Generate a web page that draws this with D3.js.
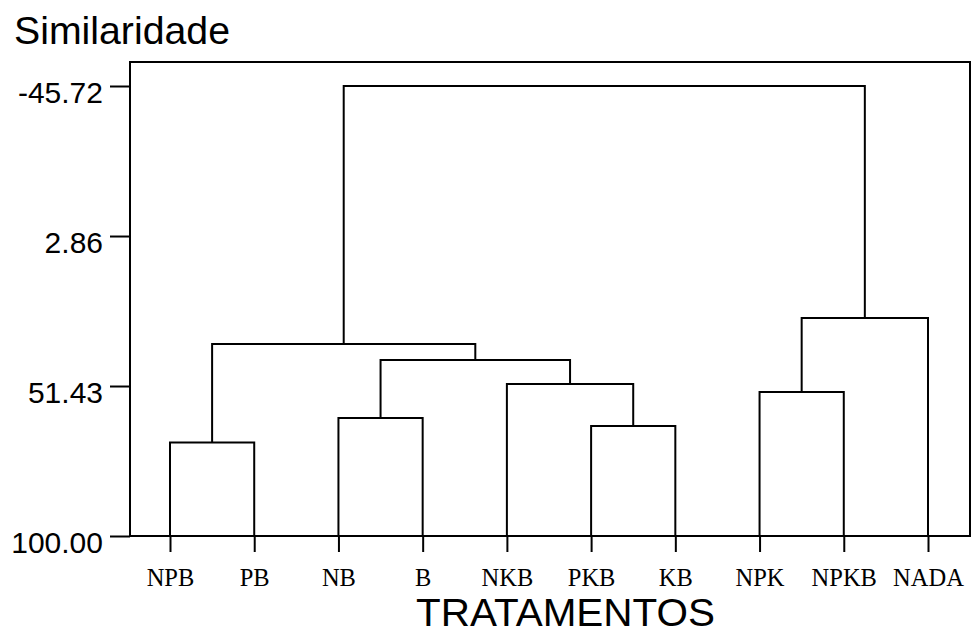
<!DOCTYPE html>
<html>
<head>
<meta charset="utf-8">
<script src="https://cdn.jsdelivr.net/npm/d3@7/dist/d3.min.js"></script>
<style>
  html, body { margin: 0; padding: 0; background: #fff; }
  svg { display: block; }
</style>
</head>
<body>
<svg id="chart" width="974" height="634"></svg>
<script>
// Treatments (dendrogram leaves, left to right)
const leaves = ["NPB", "PB", "NB", "B", "NKB", "PKB", "KB", "NPK", "NPKB", "NADA"];

// Similarity axis tick values
const yTicks = [-45.72, 2.86, 51.43, 100.00];

// Agglomeration steps: each pair joins two leaves or earlier clusters ("c" + step index)
const mergePairs = [
  ["NPB", "PB"],   // c0
  ["NB", "B"],     // c1
  ["PKB", "KB"],   // c2
  ["NKB", "c2"],   // c3
  ["c1", "c3"],    // c4
  ["c0", "c4"],    // c5
  ["NPK", "NPKB"], // c6
  ["c6", "NADA"],  // c7
  ["c5", "c7"]     // c8
];
// Similarity level at which each step joins
const mergeHeights = [69.7, 61.8, 64.4, 50.8, 43.0, 37.8, 53.4, 29.4, -45.72];

const svg = d3.select("#chart");
const frame = { left: 130, top: 62, right: 970, bottom: 536 };

const x = d3.scalePoint().domain(leaves).range([170, 928]);
const y = d3.scaleLinear().domain([-45.72, 100]).range([86, 536]);

// Node positions: leaves sit on the baseline, clusters centre over their children
const nodes = {};
leaves.forEach(l => { nodes[l] = { x: x(l), y: y(100) }; });
mergePairs.forEach((p, i) => {
  const a = nodes[p[0]], b = nodes[p[1]];
  nodes["c" + i] = { x: (a.x + b.x) / 2, y: y(mergeHeights[i]), a, b };
});

const g = svg.append("g");

// Dendrogram links
g.selectAll("path.link")
  .data(mergePairs.map((p, i) => nodes["c" + i]))
  .join("path")
  .attr("class", "link")
  .attr("fill", "none")
  .attr("stroke", "#000")
  .attr("stroke-width", 2)
  .attr("stroke-linejoin", "miter")
  .attr("d", n => `M${n.a.x},${n.a.y}V${n.y}H${n.b.x}V${n.b.y}`);

// Frame
g.append("rect")
  .attr("x", frame.left).attr("y", frame.top)
  .attr("width", frame.right - frame.left)
  .attr("height", frame.bottom - frame.top)
  .attr("fill", "none").attr("stroke", "#000").attr("stroke-width", 2);

// Left axis
const yAxis = g.append("g")
  .attr("transform", `translate(${frame.left},0)`)
  .call(d3.axisLeft(y).tickValues(yTicks).tickSize(20).tickSizeOuter(0).tickPadding(7)
    .tickFormat(d => d.toFixed(2)));
yAxis.select(".domain").remove();
yAxis.selectAll(".tick line").attr("stroke", "#000").attr("stroke-width", 2);
yAxis.selectAll(".tick text")
  .attr("fill", "#000")
  .style("font-family", "'Liberation Sans', Arial, sans-serif")
  .style("font-size", "30px")
  .attr("dy", "16.5px");

// Bottom axis with treatment labels
const xAxis = g.append("g")
  .attr("transform", `translate(0,${frame.bottom})`)
  .call(d3.axisBottom(x).tickSize(16).tickSizeOuter(0));
xAxis.select(".domain").remove();
xAxis.selectAll(".tick line").attr("stroke", "#000").attr("stroke-width", 2);
xAxis.selectAll(".tick text")
  .attr("fill", "#000")
  .attr("y", 50).attr("dy", 0)
  .style("font-family", "'Liberation Serif', 'Times New Roman', serif")
  .style("font-size", "24.5px");

// Axis titles
svg.append("text")
  .attr("x", 14).attr("y", 44)
  .attr("textLength", 216).attr("lengthAdjust", "spacingAndGlyphs")
  .style("font-family", "'Liberation Sans', Arial, sans-serif")
  .style("font-size", "39px")
  .text("Similaridade");

svg.append("text")
  .attr("x", 416).attr("y", 626)
  .attr("textLength", 299).attr("lengthAdjust", "spacingAndGlyphs")
  .style("font-family", "'Liberation Sans', Arial, sans-serif")
  .style("font-size", "39px")
  .text("TRATAMENTOS");
</script>
</body>
</html>
